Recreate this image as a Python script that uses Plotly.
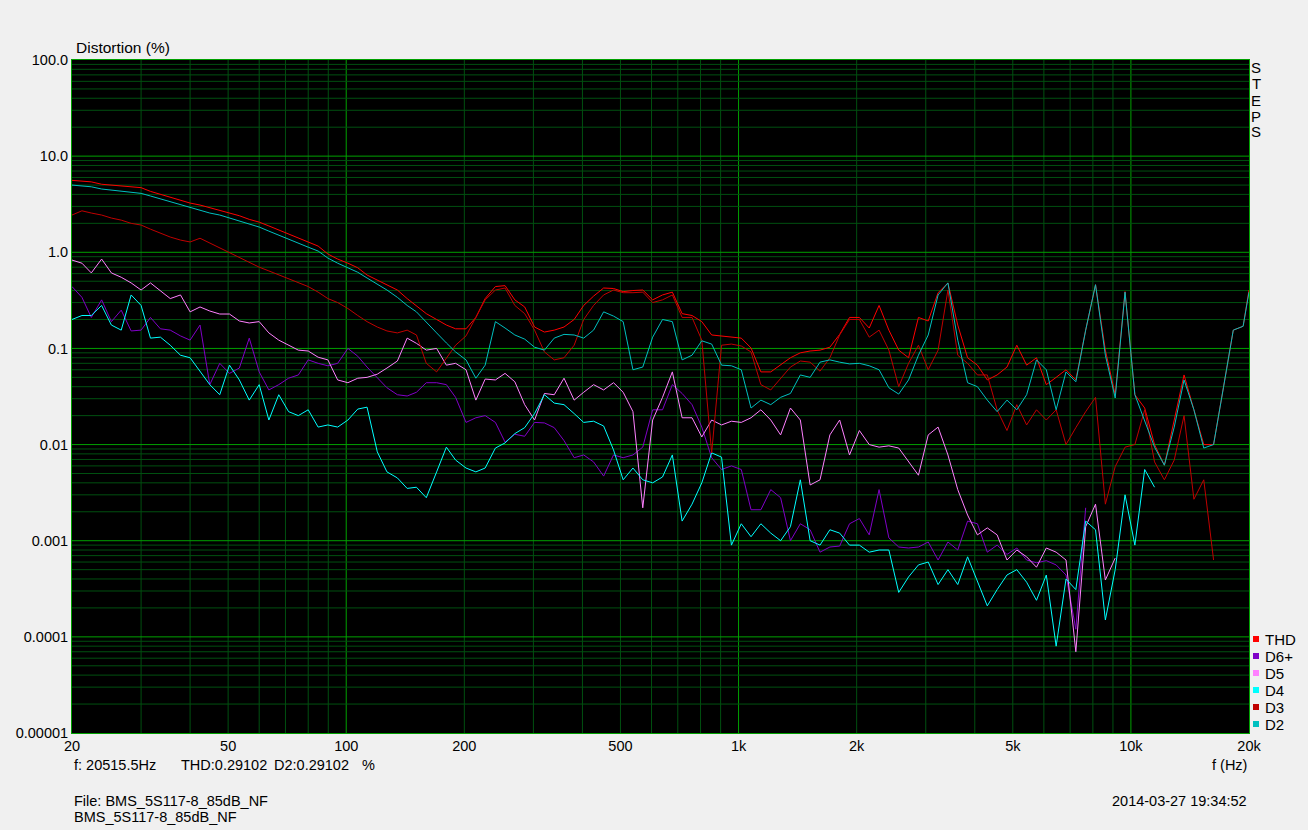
import plotly.graph_objects as go

FREQ = [20, 21.2, 22.4, 23.8, 25.2, 26.7, 28.3, 30.0, 31.7, 33.6,
        35.6, 37.8, 40.0, 42.4, 44.9, 47.6, 50.4, 53.4, 56.6, 60.0,
        63.5, 67.3, 71.3, 75.5, 80.0, 84.8, 89.8, 95.1, 101, 107,
        113, 120, 127, 135, 143, 151, 160, 170, 180, 190,
        202, 214, 226, 240, 254, 269, 285, 302, 320, 339,
        359, 381, 403, 427, 453, 480, 508, 538, 570, 604,
        640, 678, 718, 761, 806, 854, 905, 959, 1016, 1076,
        1140, 1208, 1280, 1356, 1437, 1522, 1613, 1709, 1810, 1918,
        2032, 2153, 2281, 2416, 2560, 2712, 2874, 3044, 3225, 3417,
        3620, 3835, 4063, 4305, 4561, 4832, 5119, 5423, 5746, 6087,
        6449, 6833, 7239, 7669, 8125, 8608, 9120, 9662, 10236, 10844,
        11489, 12172, 12896, 13662, 14475, 15335, 16247, 17213, 18236, 19320,
        20000]

THD = [5.6, 5.5, 5.4, 5.1, 5.0, 4.9, 4.8, 4.7, 4.3, 4.0,
       3.75, 3.5, 3.25, 3.1, 2.9, 2.75, 2.56, 2.4, 2.2, 2.06,
       1.88, 1.7, 1.55, 1.4, 1.28, 1.16, 0.96, 0.85, 0.77, 0.69,
       0.58, 0.515, 0.46, 0.405, 0.33, 0.28, 0.23, 0.20, 0.175, 0.16,
       0.16, 0.21, 0.33, 0.44, 0.45, 0.32, 0.27, 0.167, 0.148, 0.155,
       0.167, 0.20, 0.28, 0.35, 0.425, 0.42, 0.39, 0.40, 0.405, 0.32,
       0.36, 0.385, 0.23, 0.22, 0.19, 0.138, 0.135, 0.131, 0.128, 0.101,
       0.057, 0.057, 0.067, 0.08, 0.09, 0.094, 0.096, 0.103, 0.14, 0.21,
       0.21, 0.163, 0.28, 0.155, 0.096, 0.08, 0.21, 0.193, 0.38, 0.48,
       0.175, 0.08, 0.067, 0.047, 0.053, 0.064, 0.108, 0.067, 0.08, 0.042,
       0.05, 0.06, 0.047, 0.155, 0.46, 0.096, 0.033, 0.39, 0.033, 0.024,
       0.01, 0.0061, 0.018, 0.053, 0.023, 0.01, 0.01, 0.039, 0.155, 0.17,
       0.405]

D2 = [5.0, 4.9, 4.8, 4.55, 4.45, 4.35, 4.2, 4.1, 3.85, 3.6,
      3.33, 3.1, 2.9, 2.75, 2.56, 2.44, 2.27, 2.1, 1.97, 1.83,
      1.66, 1.5, 1.37, 1.25, 1.13, 1.03, 0.87, 0.77, 0.69, 0.62,
      0.54, 0.47, 0.405, 0.34, 0.28, 0.24, 0.19, 0.145, 0.114, 0.092,
      0.076, 0.049, 0.067, 0.19, 0.163, 0.138, 0.125, 0.103, 0.096, 0.128,
      0.14, 0.138, 0.128, 0.155, 0.24, 0.217, 0.19, 0.06, 0.064, 0.131,
      0.2, 0.19, 0.076, 0.085, 0.12, 0.111, 0.067, 0.066, 0.06, 0.024,
      0.029, 0.026, 0.031, 0.034, 0.053, 0.05, 0.072, 0.076, 0.072, 0.069,
      0.07, 0.066, 0.06, 0.039, 0.0335, 0.047, 0.085, 0.138, 0.36, 0.48,
      0.122, 0.044, 0.04, 0.029, 0.022, 0.029, 0.023, 0.033, 0.076, 0.06,
      0.023, 0.057, 0.045, 0.155, 0.46, 0.085, 0.0305, 0.385, 0.033, 0.018,
      0.0094, 0.0061, 0.0152, 0.047, 0.023, 0.0092, 0.01, 0.039, 0.155, 0.17,
      0.385]

D3 = [2.44, 2.7, 2.56, 2.44, 2.27, 2.16, 2.0, 1.92, 1.74, 1.58,
      1.44, 1.34, 1.28, 1.4, 1.25, 1.1, 0.98, 0.87, 0.79, 0.70,
      0.64, 0.58, 0.53, 0.48, 0.44, 0.385, 0.33, 0.30, 0.26, 0.22,
      0.19, 0.167, 0.152, 0.145, 0.155, 0.138, 0.07, 0.057, 0.08, 0.108,
      0.135, 0.21, 0.32, 0.405, 0.425, 0.28, 0.23, 0.155, 0.092, 0.076,
      0.08, 0.108, 0.2, 0.28, 0.36, 0.405, 0.38, 0.38, 0.385, 0.30,
      0.32, 0.36, 0.21, 0.21, 0.122, 0.0082, 0.108, 0.111, 0.106, 0.092,
      0.042, 0.037, 0.049, 0.064, 0.074, 0.072, 0.058, 0.08, 0.138, 0.2,
      0.2, 0.131, 0.155, 0.096, 0.04, 0.07, 0.108, 0.06, 0.096, 0.405,
      0.085, 0.07, 0.053, 0.053, 0.023, 0.014, 0.026, 0.016, 0.023, 0.018,
      0.023, 0.01, 0.015, 0.022, 0.031, 0.0024, 0.0059, 0.0094, 0.01, 0.023,
      0.0066, 0.0043, 0.0069, 0.02, 0.0027, 0.0043, 0.00063]

D4 = [0.2, 0.22, 0.22, 0.28, 0.175, 0.155, 0.36, 0.28, 0.128, 0.131,
      0.108, 0.085, 0.08, 0.057, 0.042, 0.033, 0.067, 0.047, 0.029, 0.042,
      0.018, 0.033, 0.022, 0.02, 0.023, 0.0152, 0.016, 0.0152, 0.018, 0.0234,
      0.0245, 0.0084, 0.0052, 0.0045, 0.0035, 0.0036, 0.0028, 0.0052, 0.0094, 0.0069,
      0.0057, 0.0052, 0.0057, 0.0092, 0.0104, 0.013, 0.015, 0.021, 0.033, 0.027,
      0.026, 0.021, 0.017, 0.0175, 0.0156, 0.0088, 0.0043, 0.0057, 0.0043, 0.004,
      0.0046, 0.0078, 0.0016, 0.0024, 0.004, 0.0082, 0.0074, 0.0009, 0.0015, 0.0011,
      0.0015, 0.0012, 0.001, 0.0014, 0.0043, 0.001, 0.0009, 0.0013, 0.0012, 0.0009,
      0.0009, 0.00076, 0.0008, 0.0008, 0.00029, 0.00042, 0.00056, 0.0006, 0.00035, 0.0005,
      0.00035, 0.00068, 0.00037, 0.00021, 0.00031, 0.00044, 0.0005, 0.00037, 0.00024, 0.00044,
      0.00008, 0.0004, 0.00031, 0.0016, 0.0013, 0.00015, 0.0005, 0.003, 0.0009, 0.0055,
      0.0036]

D5 = [0.83, 0.77, 0.61, 0.85, 0.61, 0.55, 0.48, 0.405, 0.48, 0.40,
      0.33, 0.36, 0.24, 0.27, 0.245, 0.228, 0.228, 0.193, 0.184, 0.19,
      0.145, 0.122, 0.108, 0.096, 0.094, 0.081, 0.076, 0.047, 0.044, 0.049,
      0.05, 0.054, 0.0625, 0.074, 0.128, 0.113, 0.096, 0.1, 0.067, 0.07,
      0.06, 0.029, 0.048, 0.047, 0.055, 0.045, 0.026, 0.018, 0.034, 0.033,
      0.049, 0.029, 0.035, 0.042, 0.037, 0.044, 0.035, 0.022, 0.0022, 0.018,
      0.031, 0.057, 0.019, 0.019, 0.012, 0.018, 0.016, 0.0175, 0.017, 0.019,
      0.023, 0.018, 0.0126, 0.024, 0.018, 0.0038, 0.0043, 0.0126, 0.018, 0.0078,
      0.014, 0.01, 0.0094, 0.0097, 0.0092, 0.0066, 0.0048, 0.0126, 0.0152, 0.0078,
      0.0034, 0.00185, 0.00115, 0.00136, 0.00115, 0.00063, 0.0008, 0.00068, 0.00053, 0.00084,
      0.00076, 0.00063, 0.00007, 0.0014, 0.0024, 0.00039, 0.00066]

D6P = [0.44, 0.34, 0.21, 0.32, 0.19, 0.25, 0.152, 0.155, 0.21, 0.16,
       0.155, 0.135, 0.122, 0.175, 0.042, 0.07, 0.055, 0.0625, 0.128, 0.057,
       0.037, 0.042, 0.049, 0.053, 0.076, 0.07, 0.066, 0.07, 0.1, 0.083,
       0.064, 0.05, 0.039, 0.033, 0.032, 0.035, 0.044, 0.044, 0.042, 0.031,
       0.017, 0.019, 0.02, 0.017, 0.0106, 0.0128, 0.0122, 0.017, 0.0168, 0.015,
       0.011, 0.0073, 0.0078, 0.0066, 0.0047, 0.0078, 0.0073, 0.0078, 0.0094, 0.023,
       0.023, 0.042, 0.034, 0.026, 0.0152, 0.0073, 0.0055, 0.006, 0.0055, 0.0021,
       0.0021, 0.0034, 0.0028, 0.001, 0.0015, 0.0013, 0.00076, 0.00086, 0.00088, 0.0015,
       0.0017, 0.00115, 0.0034, 0.00107, 0.00086, 0.00084, 0.00086, 0.00097, 0.00063, 0.00097,
       0.0008, 0.0016, 0.0015, 0.00076, 0.0009, 0.00072, 0.00084, 0.00063, 0.00059, 0.00062,
       0.00056, 0.00044, 0.00012, 0.0022]

SERIES = [("THD", THD, "#FF0000"), ("D6+", D6P, "#8000C8"), ("D5", D5, "#FF80FF"),
          ("D4", D4, "#00FFFF"), ("D3", D3, "#C00000"), ("D2", D2, "#00C0C0")]

X_TICKS = [20, 50, 100, 200, 500, 1000, 2000, 5000, 10000, 20000]
X_LABELS = ["20", "50", "100", "200", "500", "1k", "2k", "5k", "10k", "20k"]
Y_TICKS = [1e-5, 1e-4, 1e-3, 1e-2, 1e-1, 1, 10, 100]
Y_LABELS = ["0.00001", "0.0001", "0.001", "0.01", "0.1", "1.0", "10.0", "100.0"]

W, H = 1308, 830
L, R, T, B = 72, 1249, 60, 733
FONT = "Arial, Liberation Sans, sans-serif"
MAJOR = "#00A000"
MINOR = "#005010"


def px(xp):
    return (xp - L) / (R - L)


def py(yp):
    return (B - yp) / (B - T)


fig = go.Figure()
for name, vals, color in SERIES:
    fig.add_trace(go.Scatter(x=FREQ[:len(vals)], y=vals, mode="lines", name=name,
                             line=dict(color=color, width=1), showlegend=False,
                             hoverinfo="skip"))

shapes = []
for dec in [10, 100, 1000, 10000]:
    for m in range(1, 10):
        f = dec * m
        if 20 < f < 20000:
            shapes.append(dict(type="line", xref="x", yref="paper", x0=f, x1=f, y0=0, y1=1,
                               line=dict(color=MAJOR if m == 1 else MINOR, width=1), layer="below"))
for e in range(-5, 2):
    for m in range(1, 10):
        v = m * 10 ** e
        if 1e-5 < v < 100:
            shapes.append(dict(type="line", xref="paper", yref="y", x0=0, x1=1, y0=v, y1=v,
                               line=dict(color=MAJOR if m == 1 else MINOR, width=1), layer="below"))

annotations = []


def txt(text, x, y, xanchor="left", size=14.5):
    annotations.append(dict(text=text, xref="paper", yref="paper", x=px(x), y=py(y),
                            xanchor=xanchor, yanchor="middle", showarrow=False,
                            font=dict(family=FONT, size=size, color="#000000")))


txt("Distortion (%)", 74, 47, size=15.5)
for i, ch in enumerate("STEPS"):
    txt(ch, 1256, 68 + 16 * i, xanchor="center", size=15)
txt("f: 20515.5Hz", 72, 765)
txt("THD:0.29102", 179, 765)
txt("D2:0.29102", 272, 765)
txt("%", 360, 765)
txt("f (Hz)", 1249, 765, xanchor="right")
txt("File: BMS_5S117-8_85dB_NF", 72, 801)
txt("BMS_5S117-8_85dB_NF", 72, 817)
txt("2014-03-27 19:34:52", 1249, 801, xanchor="right")

leg_y = [639, 656, 673, 690, 707, 724]
for (name, vals, color), yy in zip(SERIES, leg_y):
    shapes.append(dict(type="rect", xref="paper", yref="paper", xsizemode="pixel", ysizemode="pixel",
                       xanchor=px(1256), yanchor=py(yy), x0=-3, x1=3, y0=-3, y1=3,
                       fillcolor=color, line=dict(width=0)))
    txt(name, 1263, yy, size=15)

fig.update_layout(
    width=W, height=H,
    margin=dict(l=L, r=W - R, t=T, b=H - B, pad=0),
    paper_bgcolor="#F0F0F0", plot_bgcolor="#000000",
    showlegend=False, hovermode=False,
    font=dict(family=FONT, size=14, color="#000000"),
    shapes=shapes, annotations=annotations,
    xaxis=dict(type="log", range=[1.30103, 4.30103], tickvals=X_TICKS, ticktext=X_LABELS,
               showgrid=False, zeroline=False, showline=True, mirror=True,
               linecolor=MAJOR, linewidth=1, ticks="", tickfont=dict(size=14.5)),
    yaxis=dict(type="log", range=[-5, 2], tickvals=Y_TICKS, ticktext=Y_LABELS,
               showgrid=False, zeroline=False, showline=True, mirror=True,
               linecolor=MAJOR, linewidth=1, ticks="", tickfont=dict(size=14.5)),
)

fig.write_html("out.html", config={"displayModeBar": False},
               post_script="document.body.style.margin='0';document.body.style.overflow='hidden';")
